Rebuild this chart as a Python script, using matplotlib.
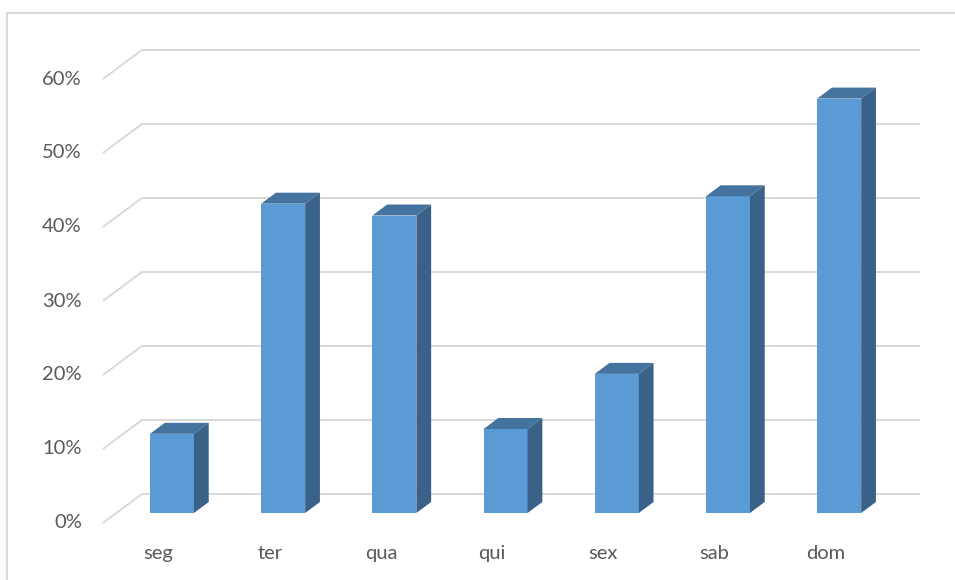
import matplotlib
matplotlib.use("Agg")
import matplotlib.pyplot as plt
from matplotlib.patches import Polygon, Rectangle
import numpy as np

plt.rcParams['font.family'] = ['Lato', 'DejaVu Sans']

# data
days = ['seg', 'ter', 'qua', 'qui', 'sex', 'sab', 'dom']
values = [10.7, 41.8, 40.2, 11.35, 18.8, 42.8, 56.0]   # percent
yticks = [0, 10, 20, 30, 40, 50, 60]

# layout (pixel based, mapped into data units)
W, H = 955, 580
STEP = 111.2          # px per category
PX10 = 74.0           # px per 10%
X0, Y0 = 158.5, 523   # px of category 0 / 0% at the front of the floor
DEPTH_X = 39 / STEP               # full depth shift in x units
DEPTH_Y = 29 / (PX10 / 10)        # full depth shift in % units
BAR_W = 44 / STEP
D_FRONT, D_BACK = 0.345, 0.724    # bar front/back depth fraction

FRONT = '#5B9BD5'
TOP = '#44739F'
SIDE = '#3A6288'
GRID = '#D9D9D9'
TXT = '#595959'

fig = plt.figure(figsize=(W / 100, H / 100), dpi=100)
ax = fig.add_axes([0, 0, 1, 1])
ax.set_xlim(-X0 / STEP, (W - X0) / STEP)
ax.set_ylim((Y0 - H) / (PX10 / 10), Y0 / (PX10 / 10))
ax.axis('off')

# chart border
fig.patches.append(Rectangle((7 / W, -0.05), 1.2, 1 - 13 / H + 0.05, transform=fig.transFigure,
                             fill=False, edgecolor=GRID, lw=1.5))

xl, xr = -0.5, len(days) - 0.5
for t in yticks:
    ax.plot([xl, xl + DEPTH_X, xr + DEPTH_X], [t, t + DEPTH_Y, t + DEPTH_Y],
            color=GRID, lw=1.4, solid_capstyle='butt', zorder=1)
    ax.text(xl - 0.19, t, f'{t}%', ha='right', va='center', fontsize=14.5, color=TXT)

x = np.arange(len(days))
fx = x + D_FRONT * DEPTH_X
fy = D_FRONT * DEPTH_Y
dx = (D_BACK - D_FRONT) * DEPTH_X
dy = (D_BACK - D_FRONT) * DEPTH_Y

ax.bar(fx, values, bottom=fy, width=BAR_W, color=FRONT, zorder=3)
for xi, v in zip(fx, values):
    l, r = xi - BAR_W / 2, xi + BAR_W / 2
    top = fy + v
    ax.add_patch(Polygon([(l, top), (r, top), (r + dx, top + dy), (l + dx, top + dy)],
                         closed=True, facecolor=TOP, edgecolor='none', zorder=3))
    ax.add_patch(Polygon([(r, fy), (r + dx, fy + dy), (r + dx, top + dy), (r, top)],
                         closed=True, facecolor=SIDE, edgecolor='none', zorder=3))

for xi, d in zip(x, days):
    ax.text(xi, -4.1, d, ha='center', va='center', fontsize=14.5, color=TXT)

fig.savefig('out.png', dpi=100)
